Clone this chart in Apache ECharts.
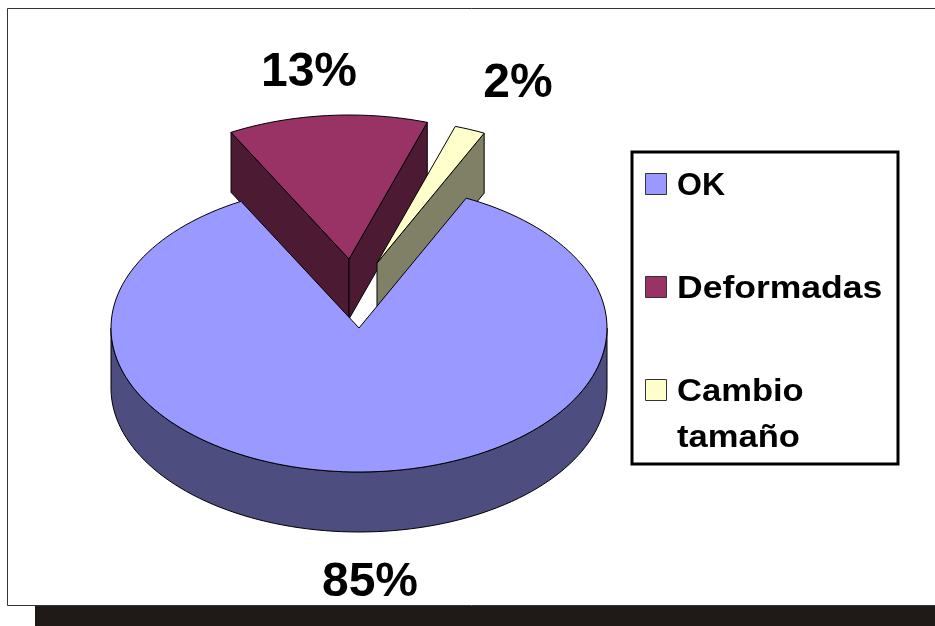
<!DOCTYPE html>
<html>
<head>
<meta charset="utf-8">
<title>Pie</title>
<script src="https://cdn.jsdelivr.net/npm/echarts@6/dist/echarts.min.js"></script>
<style>
html, body { margin: 0; padding: 0; background: #fff; }
#chart { width: 935px; height: 626px; }
</style>
</head>
<body>
<div id="chart"></div>
<script>
var categories = ["OK", "Deformadas", "Cambio tamaño"];
var values = [85, 13, 2];
var legendLines = [["OK"], ["Deformadas"], ["Cambio", "tamaño"]];

// look of each slice
var topColors = ["#9999ff", "#993366", "#ffffcc"];
var sideColors = ["#4d4d80", "#4d1a33", "#808066"];

// pie layout, ellipse with a fixed depth
var cx = 359, cy = 328, rx = 248, ry = 144, depth = 60;
var startAngle = 25.6;
var explode = [[0, 0], [-10, -69], [18, -65]];
var labelPos = [[370, 583], [309, 73], [518, 84]];
var drawOrder = [1, 2, 0];

var total = values.reduce(function(a, b) { return a + b; }, 0);

function sliceAngles(i) {
    var sum = 0;
    for (var k = 0; k < i; k++) {
        sum += values[k];
    }
    return [startAngle + sum / total * 360, startAngle + (sum + values[i]) / total * 360];
}

// angle is clockwise from the top of the pie
function rimPoint(a, ox, oy) {
    var r = a * Math.PI / 180;
    return [ox + rx * Math.sin(r), oy - ry * Math.cos(r)];
}

function arcPoints(a0, a1, ox, oy) {
    var pts = [];
    var steps = Math.max(2, Math.ceil((a1 - a0) / 2));
    for (var s = 0; s <= steps; s++) {
        pts.push(rimPoint(a0 + (a1 - a0) * s / steps, ox, oy));
    }
    return pts;
}

function poly(points, fill) {
    return {
        type: 'polygon',
        shape: { points: points },
        style: { fill: fill, stroke: '#000', lineWidth: 1 }
    };
}

function wall(angle, ox, oy, fill) {
    var p = rimPoint(angle, ox, oy);
    return poly([[ox, oy], p, [p[0], p[1] + depth], [ox, oy + depth]], fill);
}

function renderSlice(params, api) {
    var i = drawOrder[params.seriesIndex];
    var a = sliceAngles(i);
    var ox = cx + explode[i][0], oy = cy + explode[i][1];
    var children = [];

    var sinStart = Math.sin(a[0] * Math.PI / 180);
    var sinEnd = Math.sin(a[1] * Math.PI / 180);
    if (sinStart < 0) {
        children.push(wall(a[0], ox, oy, sideColors[i]));
    }
    if (sinEnd > 0) {
        children.push(wall(a[1], ox, oy, sideColors[i]));
    }

    // front rim, only the lower half of the ellipse can be seen
    var r0 = Math.max(a[0], 90), r1 = Math.min(a[1], 270);
    if (r1 > r0) {
        var upper = arcPoints(r0, r1, ox, oy);
        var lower = arcPoints(r0, r1, ox, oy + depth).reverse();
        children.push(poly(upper.concat(lower), sideColors[i]));
    }

    var topFace = [[ox, oy]].concat(arcPoints(a[0], a[1], ox, oy));
    children.push(poly(topFace, topColors[i]));

    children.push({
        type: 'text',
        style: {
            x: labelPos[i][0],
            y: labelPos[i][1],
            text: api.value(0) + '%',
            fill: '#000',
            font: 'bold 48px "Liberation Sans", Arial, sans-serif',
            align: 'center',
            verticalAlign: 'middle'
        }
    });

    return { type: 'group', children: children };
}

function buildLegend() {
    var left = 632, top = 152;
    var rowY = [184, 287, 390];
    var stretch = [1, 1.11, 1.08];
    var items = [{
        type: 'rect',
        shape: { x: left, y: top, width: 266, height: 312 },
        style: { fill: '#fff', stroke: '#000', lineWidth: 3 },
        z: 1
    }];
    legendLines.forEach(function(lines, i) {
        items.push({
            type: 'rect',
            shape: { x: 645.5, y: rowY[i] - 10.5, width: 21, height: 21 },
            style: { fill: topColors[i], stroke: '#333', lineWidth: 1 },
            z: 2
        });
        lines.forEach(function(line, j) {
            items.push({
                type: 'text',
                x: 677,
                y: rowY[i] + 2 + j * 46,
                scaleX: stretch[i],
                style: {
                    text: line,
                    fill: '#000',
                    font: 'bold 32px "Liberation Sans", Arial, sans-serif',
                    align: 'left',
                    verticalAlign: 'middle'
                },
                z: 2
            });
        });
    });
    return items;
}

var frame = [
    { type: 'rect', shape: { x: 7.5, y: 8.5, width: 940, height: 597 }, style: { fill: '#fff', stroke: '#333', lineWidth: 1 }, z: -2 },
    { type: 'rect', shape: { x: 35, y: 606, width: 900, height: 20 }, style: { fill: '#1f1a17' }, z: -1 }
];

var myChart = echarts.init(document.getElementById('chart'));

var option = {
    backgroundColor: '#fff',
    animation: false,
    graphic: { elements: frame.concat(buildLegend()) },
    series: drawOrder.map(function(i) {
        return {
            type: 'custom',
            name: categories[i],
            coordinateSystem: 'none',
            renderItem: renderSlice,
            silent: true,
            z: 5,
            data: [[values[i]]]
        };
    })
};

myChart.setOption(option);
</script>
</body>
</html>
